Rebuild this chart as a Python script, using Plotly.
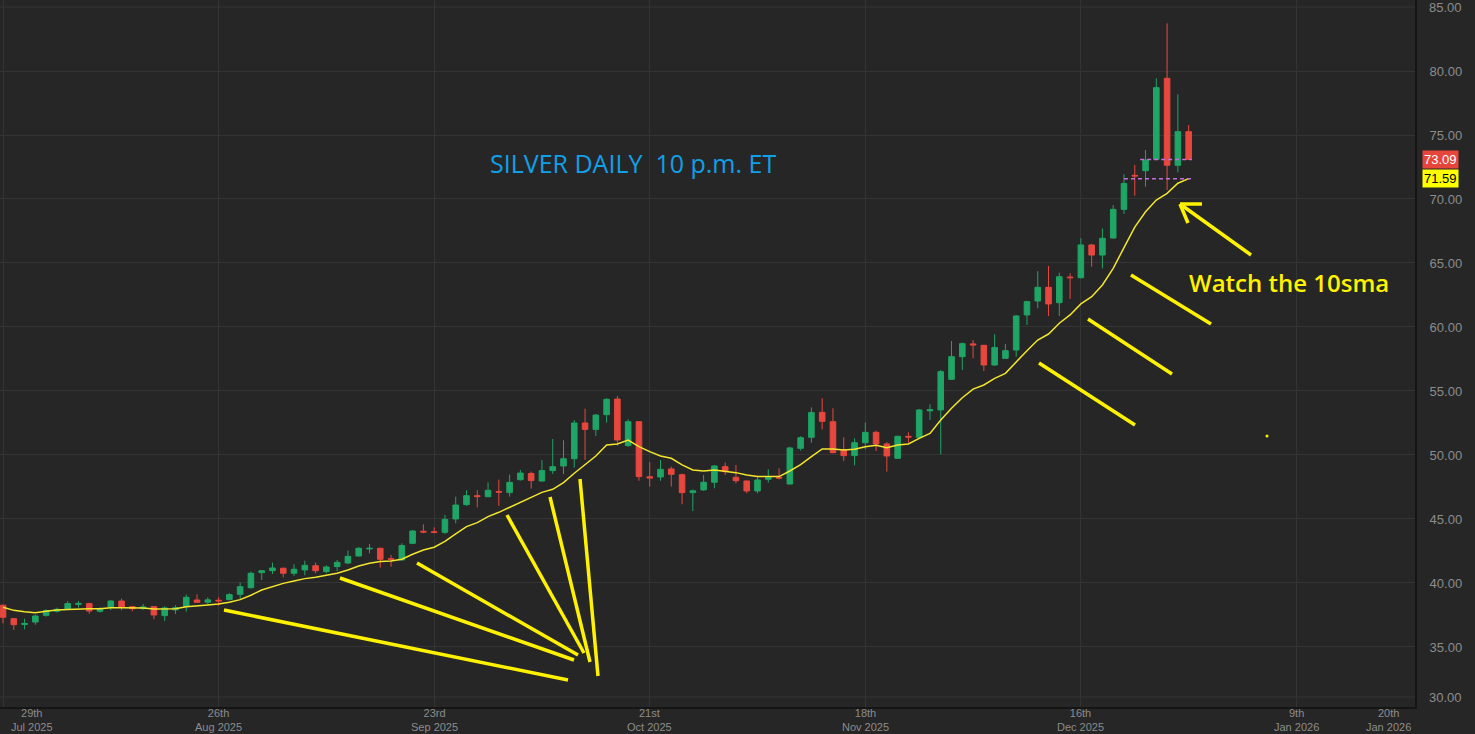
import plotly.graph_objects as go

# ---------------- data ----------------
opens = [38.26, 37.21, 36.76, 36.95, 37.47, 37.79, 37.97, 38.33, 38.39, 37.79,
         38.10, 38.59, 38.15, 38.00, 38.15, 37.45, 37.90, 38.18, 38.67, 38.50,
         38.65, 38.70, 39.11, 39.63, 40.81, 40.96, 41.15, 40.76, 41.02, 41.35,
         40.89, 41.28, 41.56, 42.11, 42.66, 42.71, 41.90, 41.80, 43.10, 44.04,
         44.00, 43.96, 45.00, 46.12, 46.82, 46.74, 47.15, 47.06, 48.07, 48.56,
         47.97, 48.78, 49.14, 49.71, 52.50, 52.00, 53.15, 54.37, 50.73, 52.60,
         48.30, 48.28, 48.91, 48.46, 47.06, 47.27, 47.87, 49.09, 48.26, 47.97,
         47.19, 48.10, 48.25, 47.73, 50.52, 51.38, 53.33, 52.60, 50.39, 49.95,
         50.96, 51.77, 50.86, 49.74, 51.45, 51.38, 53.45, 53.52, 55.91, 57.68,
         58.68, 58.57, 57.03, 57.55, 58.20, 60.94, 62.03, 63.10, 61.90, 63.90,
         63.85, 66.41, 65.62, 66.95, 69.19, 71.85, 72.21, 73.10, 79.43, 72.63,
         75.26]
highs = [38.30, 37.27, 37.21, 37.53, 37.94, 38.07, 38.59, 38.59, 38.45, 38.10,
         38.67, 38.78, 38.20, 38.36, 38.20, 38.18, 38.26, 39.09, 39.12, 38.88,
         38.88, 39.20, 40.03, 40.89, 40.98, 41.59, 41.20, 41.46, 41.74, 41.59,
         41.38, 41.80, 42.53, 42.81, 43.05, 42.75, 42.19, 43.10, 44.14, 44.58,
         44.35, 45.31, 46.74, 47.24, 47.24, 47.86, 48.07, 48.46, 48.83, 48.70,
         49.61, 51.25, 51.15, 52.73, 53.62, 53.20, 54.43, 54.61, 52.79, 52.65,
         49.45, 49.61, 49.09, 48.55, 47.30, 48.44, 49.22, 49.40, 49.22, 48.00,
         48.31, 48.88, 48.96, 50.65, 51.46, 53.72, 54.43, 53.65, 51.38, 51.30,
         52.53, 51.90, 51.00, 51.50, 51.77, 53.58, 53.96, 56.64, 58.91, 58.78,
         58.98, 58.60, 59.43, 58.67, 60.94, 62.05, 64.37, 64.77, 64.24, 64.19,
         66.93, 66.50, 67.70, 69.53, 71.93, 72.66, 73.83, 79.43, 83.72, 78.18,
         75.78]
lows = [36.85, 36.33, 36.38, 36.74, 37.37, 37.68, 37.89, 38.07, 37.58, 37.68,
        37.89, 37.87, 37.79, 37.89, 37.16, 37.03, 37.58, 37.76, 38.45, 38.36,
        38.23, 38.65, 38.75, 39.56, 40.23, 40.70, 40.44, 40.55, 40.60, 40.76,
        40.76, 40.93, 41.48, 42.06, 42.32, 41.20, 41.28, 41.75, 43.03, 43.88,
        43.88, 43.83, 44.66, 46.02, 45.91, 46.70, 46.02, 46.74, 48.00, 47.37,
        47.90, 48.52, 48.50, 49.01, 49.61, 51.48, 52.53, 50.73, 50.65, 47.99,
        47.53, 47.99, 47.53, 46.15, 45.62, 47.20, 47.40, 48.44, 47.79, 47.01,
        47.01, 47.84, 48.10, 47.70, 50.34, 50.96, 52.00, 50.13, 49.53, 49.19,
        50.44, 50.31, 48.70, 49.70, 50.96, 51.30, 52.73, 50.05, 55.90, 56.64,
        57.55, 56.56, 56.98, 57.50, 57.68, 60.16, 61.46, 60.86, 60.86, 62.19,
        63.80, 64.71, 64.58, 66.90, 68.83, 70.26, 70.96, 73.05, 70.70, 72.08,
        73.05]
closes = [37.32, 36.74, 36.84, 37.42, 37.84, 37.94, 38.39, 38.40, 37.81, 37.99,
          38.59, 38.12, 37.99, 38.13, 37.50, 38.05, 38.07, 38.88, 38.49, 38.68,
          38.60, 39.09, 39.71, 40.76, 40.96, 41.17, 40.76, 41.07, 41.38, 40.96,
          41.25, 41.61, 42.08, 42.71, 42.71, 41.85, 41.85, 42.92, 44.06, 43.98,
          43.95, 44.97, 46.09, 46.82, 46.75, 47.24, 47.10, 47.86, 48.59, 48.00,
          48.78, 49.09, 49.71, 52.50, 52.00, 53.12, 54.35, 51.17, 52.60, 48.31,
          48.20, 48.88, 48.49, 47.06, 47.20, 47.87, 49.14, 48.70, 47.99, 47.19,
          48.05, 48.26, 48.20, 50.55, 51.35, 53.31, 52.63, 50.18, 49.95, 50.96,
          51.77, 50.86, 49.92, 51.46, 51.40, 53.52, 53.55, 56.51, 57.68, 58.70,
          58.60, 57.03, 58.39, 58.15, 60.86, 61.98, 63.10, 61.80, 63.93, 63.85,
          66.41, 65.62, 66.93, 69.19, 71.22, 71.80, 73.05, 78.70, 72.63, 75.26,
          73.09]
sma10 = [38.10, 37.86, 37.76, 37.68, 37.79, 37.89, 37.92, 37.97, 37.99, 37.99,
         38.07, 38.07, 38.05, 38.05, 37.97, 37.97, 37.99, 38.15, 38.20, 38.28,
         38.36, 38.50, 38.70, 39.04, 39.45, 39.74, 39.97, 40.16, 40.34, 40.44,
         40.62, 40.76, 41.02, 41.33, 41.54, 41.67, 41.72, 41.85, 42.24, 42.58,
         42.79, 43.25, 43.83, 44.40, 44.71, 45.18, 45.52, 45.91, 46.33, 46.74,
         47.08, 47.32, 47.84, 48.57, 49.26, 49.92, 50.78, 50.86, 51.17, 50.65,
         50.26, 49.92, 49.74, 49.22, 48.83, 48.75, 48.83, 48.75, 48.62, 48.44,
         48.31, 48.31, 48.31, 48.75, 49.24, 49.87, 50.47, 50.47, 50.39, 50.44,
         50.65, 50.76, 50.57, 50.78, 50.86, 51.30, 51.69, 52.73, 53.65, 54.47,
         55.15, 55.47, 55.99, 56.38, 57.29, 58.15, 58.98, 59.45, 60.29, 60.94,
         61.80, 62.37, 63.28, 64.58, 66.20, 67.80, 69.00, 69.92, 70.44, 71.23,
         71.59]
x_idx = list(range(len(closes)))

tick_pos = [0, 20, 40, 60, 80, 100, 120]
tick_day = ["29th", "26th", "23rd", "21st", "18th", "16th", "9th", "20th"]
tick_month = ["Jul 2025", "Aug 2025", "Sep 2025", "Oct 2025", "Nov 2025",
              "Dec 2025", "Jan 2026", "Jan 2026"]
label_pos = [2.7, 20, 40, 60, 80, 100, 120, 128.5]
y_ticks = [35, 40, 45, 50, 55, 60, 65, 70, 75, 80, 85]

last_price = closes[-1]
last_sma = sma10[-1]

# ---------------- figure ----------------
BG = "#262626"
GRID = "#343434"
UP = "#1fa565"
DOWN = "#e8473d"
HAND = "#fff200"
TXT = "#8c8c8c"

PW, PH = 1415.0, 707.0


def ppx(x):
    return x / PW


def ppy(y):
    return 1 - y / PH


fig = go.Figure()
fig.add_trace(go.Candlestick(
    x=x_idx, open=opens, high=highs, low=lows, close=closes,
    increasing=dict(line=dict(color=UP, width=1), fillcolor=UP),
    decreasing=dict(line=dict(color=DOWN, width=1), fillcolor=DOWN),
    whiskerwidth=0, showlegend=False, hoverinfo="skip"))
fig.add_trace(go.Scatter(
    x=x_idx, y=sma10, mode="lines", line=dict(color="#f3e62c", width=1.5),
    showlegend=False, hoverinfo="skip"))

shapes = []
# hand drawn yellow strokes (pixel positions)
strokes = [
    (224, 610, 568, 680), (340, 578, 574, 660), (417, 563, 578, 655),
    (507, 515, 584, 653), (550, 497, 590, 662), (580, 479, 598, 676),
    (1131, 275, 1211, 324), (1088, 319, 1172, 374), (1039, 363, 1135, 425),
    (1251, 255, 1180, 204), (1180, 204, 1202, 204), (1180, 204, 1188, 223),
]
for x0, y0, x1, y1 in strokes:
    shapes.append(dict(type="line", xref="paper", yref="paper",
                       x0=ppx(x0), y0=ppy(y0), x1=ppx(x1), y1=ppy(y1),
                       line=dict(color=HAND, width=3.5), layer="above"))
shapes.append(dict(type="circle", xref="paper", yref="paper",
                   x0=ppx(1265.5), y0=ppy(434.5), x1=ppx(1268.5), y1=ppy(437.5),
                   fillcolor=HAND, line=dict(width=0)))
# last price / sma dashed markers
shapes.append(dict(type="line", xref="x", yref="y", x0=105.5, x1=110.3,
                   y0=last_price, y1=last_price,
                   line=dict(color="#c56fd8", width=1.5, dash="4px,3px")))
shapes.append(dict(type="line", xref="x", yref="y", x0=104.0, x1=110.3,
                   y0=last_sma, y1=last_sma,
                   line=dict(color="#c56fd8", width=1.5, dash="4px,3px")))
# bottom clamped gridline
shapes.append(dict(type="line", xref="paper", yref="paper", x0=0, x1=1,
                   y0=ppy(697), y1=ppy(697), line=dict(color=GRID, width=1),
                   layer="below"))

annotations = []
for pos, d, m in zip(label_pos, tick_day, tick_month):
    annotations.append(dict(x=pos, xref="x", y=0, yref="paper",
                            yanchor="top", xanchor="center", yshift=1,
                            showarrow=False, text=d + "<br>" + m,
                            borderpad=0,
                            font=dict(family="Liberation Sans", size=11,
                                      color=TXT)))
annotations.append(dict(x=1, xref="paper", xanchor="left", xshift=12,
                        y=ppy(697), yref="paper", yanchor="middle",
                        showarrow=False, text="30.00",
                        font=dict(family="Liberation Sans", size=13,
                                  color=TXT)))
annotations.append(dict(x=1, xref="paper", xanchor="left", xshift=12,
                        y=ppy(7), yref="paper", yanchor="middle",
                        showarrow=False, text="85.00",
                        font=dict(family="Liberation Sans", size=13,
                                  color=TXT)))
annotations.append(dict(x=1, xref="paper", xanchor="left", xshift=7,
                        y=last_price, yref="y", yanchor="middle",
                        showarrow=False, text=f"{last_price:.2f}",
                        bgcolor="#e5453b", borderpad=1,
                        font=dict(family="Liberation Sans", size=13,
                                  color="#ffffff")))
annotations.append(dict(x=1, xref="paper", xanchor="left", xshift=7,
                        y=last_sma, yref="y", yanchor="middle",
                        showarrow=False, text=f"{last_sma:.2f}",
                        bgcolor="#ffff00", borderpad=1,
                        font=dict(family="Liberation Sans", size=13,
                                  color="#000000")))
annotations.append(dict(x=ppx(632.5), xref="paper", y=ppy(163), yref="paper",
                        xanchor="center", yanchor="middle", showarrow=False,
                        text="SILVER DAILY\u00a0 10 p.m. ET",
                        font=dict(family="Open Sans", size=25,
                                  color="#10a0e8")))
annotations.append(dict(x=ppx(1289), xref="paper", y=ppy(283), yref="paper",
                        xanchor="center", yanchor="middle", showarrow=False,
                        text="Watch the 10sma",
                        font=dict(family="Open Sans", size=24, weight=600,
                                  color=HAND)))

fig.update_layout(
    width=1475, height=734,
    margin=dict(l=0, r=60, t=0, b=27),
    paper_bgcolor=BG, plot_bgcolor=BG,
    boxgap=0.26,
    shapes=shapes, annotations=annotations,
    xaxis=dict(range=[-0.28, 131.0], tickvals=tick_pos, showticklabels=False,
               showgrid=True, gridcolor=GRID, gridwidth=1, zeroline=False,
               rangeslider=dict(visible=False), fixedrange=True,
               showline=True, linecolor="#151515", linewidth=2, ticks=""),
    yaxis=dict(range=[30.31, 85.547], side="right", tickvals=y_ticks[:-1],
               ticktext=[f"{v:.2f}" for v in y_ticks[:-1]], showgrid=True,
               gridcolor=GRID, gridwidth=1, zeroline=False,
               showline=True, linecolor="#151515", linewidth=2, ticks="",
               ticklabelstandoff=10, fixedrange=True,
               tickfont=dict(family="Liberation Sans", size=13, color=TXT)),
)
# 85 gridline drawn explicitly (top edge)
fig.add_hline(y=y_ticks[-1], line=dict(color=GRID, width=1), layer="below")

fig.write_html("out.html", config={"displayModeBar": False},
               post_script="document.body.style.margin='0';"
                           "document.body.style.overflow='hidden';")
